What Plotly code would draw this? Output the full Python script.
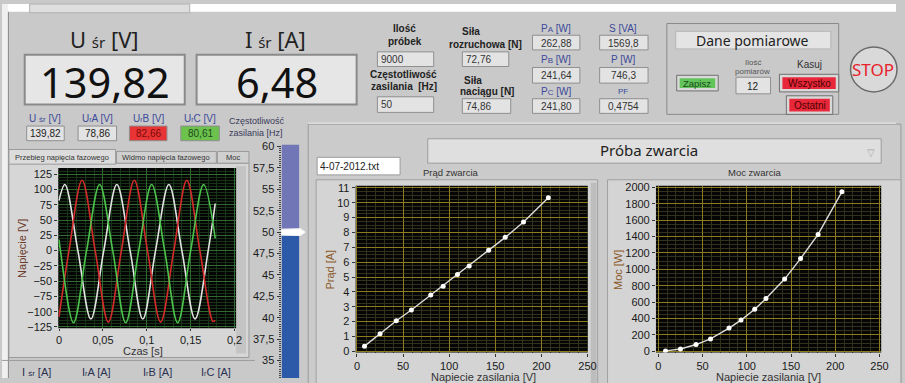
import plotly.graph_objects as go

# ------------------------------------------------------------------ data
# phase voltage waveforms (read at peaks / zero crossings)
t_white = [0, 0.0067, 0.0215, 0.0363, 0.051, 0.0659, 0.081, 0.0955, 0.110, 0.1252, 0.140, 0.155, 0.170, 0.178]
u_white = [82, 108, 0, -112, 0, 108, 0, -112, 0, 108, 0, -112, 0, 77]
t_red = [0, 0.0114, 0.0263, 0.0412, 0.0562, 0.0711, 0.0858, 0.1008, 0.1158, 0.1308, 0.1456, 0.1605, 0.1755, 0.178]
u_red = [-108, 0, 115, 0, -117, 0, 115, 0, -117, 0, 115, 0, -116, -114]
t_green = [0, 0.0016, 0.0165, 0.0314, 0.0463, 0.0612, 0.0760, 0.0908, 0.1056, 0.1204, 0.1352, 0.1500, 0.1648, 0.178]
u_green = [18, 0, -118, 0, 108, 0, -118, 0, 108, 0, -118, 0, 108, 20]

# short-circuit test
u_supply = [8.2, 25.1, 42.7, 59.0, 80.0, 93.5, 109.0, 121.7, 142.8, 160.8, 180.6, 207.5]
i_short = [0.35, 1.18, 2.06, 2.78, 3.79, 4.38, 5.17, 5.75, 6.80, 7.67, 8.70, 10.33]
p_short = [5, 28, 83, 151, 283, 381, 512, 643, 881, 1131, 1425, 1944]

# frequency slider
freq_value = 50
freq_ticks = [35, 37.5, 40, 42.5, 45, 47.5, 50, 52.5, 55, 57.5, 60]
freq_ticktext = ["35", "37,5", "40", "42,5", "45", "47,5", "50", "52,5", "55", "57,5", "60"]

# tick labels
sine_xticks = [0, 0.05, 0.1, 0.15, 0.2]
sine_xtext = ["0", "0,05", "0,1", "0,15", "0,2"]
sine_yticks = [-125, -100, -75, -50, -25, 0, 25, 50, 75, 100, 125]
v_xticks = [0, 50, 100, 150, 200, 250]
i_yticks = [0, 1, 2, 3, 4, 5, 6, 7, 8, 9, 10, 11]
p_yticks = [0, 200, 400, 600, 800, 1000, 1200, 1400, 1600, 1800, 2000]

# indicator values
u_avg, i_avg = "139,82", "6,48"
SMALL_R = "<span style='font-size:7px'>r</span>"
phase_labels = ["U <span style='font-size:8px'>śr</span> [V]", "U" + SMALL_R + "A [V]",
                "U" + SMALL_R + "B [V]", "U" + SMALL_R + "C [V]"]
phase_values = ["139,82", "78,86", "82,66", "80,61"]
n_samples, supply_freq = "9000", "50"
f_start, f_tension = "72,76", "74,86"
p_labels = ["P<span style='font-size:8px'>A</span> [W]", "P<span style='font-size:8px'>B</span> [W]",
            "P<span style='font-size:8px'>C</span> [W]"]
p_values = ["262,88", "241,64", "241,80"]
s_labels = ["S [VA]", "P [W]", "PF"]
s_values = ["1569,8", "746,3", "0,4754"]
n_meas = "12"
current_labels = ["I <span style='font-size:8px'>śr</span> [A]", "I" + SMALL_R + "A [A]",
                  "I" + SMALL_R + "B [A]", "I" + SMALL_R + "C [A]"]

# ------------------------------------------------------------------ helpers
W, H = 905, 383
BG = "#c9c9c9"
SANS = "Liberation Sans"
BIG = "Noto Sans"


def X(p):
    return p / W


def Y(p):
    return 1 - p / H


shapes, annotations = [], []


def rect(x0, y0, x1, y1, fill, line=None, lw=0, layer="below"):
    shapes.append(dict(type="rect", xref="paper", yref="paper",
                       x0=X(x0), x1=X(x1), y0=Y(y1), y1=Y(y0),
                       fillcolor=fill, line=dict(color=line or fill, width=lw), layer=layer))


def hline(x0, x1, y, color, lw=1):
    shapes.append(dict(type="line", xref="paper", yref="paper", x0=X(x0), x1=X(x1),
                       y0=Y(y), y1=Y(y), line=dict(color=color, width=lw), layer="below"))


def vline(x, y0, y1, color, lw=1):
    shapes.append(dict(type="line", xref="paper", yref="paper", x0=X(x), x1=X(x),
                       y0=Y(y0), y1=Y(y1), line=dict(color=color, width=lw), layer="below"))


def txt(x, y, s, size=10, color="#222", family=SANS, xanchor="center", angle=0, bold=False):
    annotations.append(dict(xref="paper", yref="paper", x=X(x), y=Y(y), text=s, showarrow=False,
                            font=dict(size=size, color=color, family=family,
                                      weight="bold" if bold else "normal"),
                            xanchor=xanchor, yanchor="middle", textangle=angle, borderpad=0))


def box(x0, y0, x1, y1, fill="#e3e3e3"):
    rect(x0, y0, x1, y1, fill, line="#8f8f8f", lw=1)


def button(x0, y0, x1, y1, inner):
    rect(x0, y0, x1, y1, "#d8d8d8", line="#6f6f6f", lw=1)
    rect(x0 + 3, y0 + 3, x1 - 3, y1 - 3, inner)


# ------------------------------------------------------------------ panel decoration
rect(0, 0, 905, 8, "#ffffff")
rect(0, 0, 6, 383, "#f0f0f0")
vline(6.5, 8, 383, "#8a8a8a")
rect(28, 0, 190, 9, "#dedede", line="#b0b0b0", lw=1)

# big indicators
txt(104, 36, "U <span style='font-size:15px'>śr</span> [V]", size=22, family=BIG)
rect(23, 52, 185, 103, "#e6e6e6", line="#8a8a8a", lw=2)
txt(104, 80, u_avg, size=41.5, color="#111", family=BIG)
txt(277, 36, "I <span style='font-size:15px'>śr</span> [A]", size=22, family=BIG)
rect(197, 52, 359, 103, "#e6e6e6", line="#8a8a8a", lw=2)
txt(278, 80, i_avg, size=41.5, color="#111", family=BIG)

# phase voltage indicators
ph_x = [(25, 63), (77, 116), (129, 167), (181, 220)]
ph_fill = ["#e3e3e3", "#e3e3e3", "#e83434", "#6cc24c"]
ph_col = ["#222", "#222", "#7a0a0a", "#1e4a1e"]
for (a, b), lab, val, f, c in zip(ph_x, phase_labels, phase_values, ph_fill, ph_col):
    txt((a + b) / 2, 117, lab, size=10, color="#3b4a9a")
    box(a, 125, b, 140, f)
    txt((a + b) / 2, 133, val, size=10, color=c)
txt(258, 120, "Częstotliwość", size=9, color="#3a3a5a")
txt(257, 132, "zasilania [Hz]", size=9, color="#3a3a5a")

# samples / frequency
txt(407, 25, "Ilość", size=10, bold=True)
txt(408, 38, "próbek", size=10, bold=True)
box(380, 49, 437, 64)
txt(383, 57, n_samples, size=10, color="#333", xanchor="left")
txt(406, 72, "Częstotliwość", size=10, bold=True)
txt(407, 84, "zasilania  [Hz]", size=10, bold=True)
box(380, 95, 437, 111)
txt(383, 103, supply_freq, size=10, color="#333", xanchor="left")

# forces
txt(475, 28, "Siła", size=10, bold=True)
txt(489, 41, "rozruchowa [N]", size=10, bold=True)
box(466, 49, 513, 64)
txt(469, 57, f_start, size=10, color="#333", xanchor="left")
txt(477, 78, "Siła", size=10, bold=True)
txt(491, 90, "naciągu [N]", size=10, bold=True)
box(466, 97, 515, 112)
txt(469, 105, f_tension, size=10, color="#333", xanchor="left")

# powers
p_rows = [(25, 32, 47), (57, 65, 81), (90, 97, 112)]
for (ly, y0, y1), lab, val in zip(p_rows, p_labels, p_values):
    txt(561, ly, lab, size=10, color="#3b4a9a")
    box(537, y0, 585, y1)
    txt(561, (y0 + y1) / 2 + 0.5, val, size=10, color="#333")
for (ly, y0, y1), lab, val, sz in zip(p_rows, s_labels, s_values, [10, 10, 8]):
    txt(629, ly, lab, size=sz, color="#3b4a9a")
    box(605, y0, 654, y1)
    txt(629.5, (y0 + y1) / 2 + 0.5, val, size=10, color="#333")

# measurement data frame
rect(673, 20, 847, 113, BG, line="#8a8a8a", lw=1)
rect(682, 28, 839, 46, "#e4e4e4", line="#b5b5b5", lw=1)
txt(760, 37, "Dane pomiarowe", size=14, family=BIG)
button(683, 73, 725, 89, "#62c45a")
txt(704, 81, "Zapisz", size=9.5, color="#1a4a1a")
txt(760, 60, "Ilość", size=8, color="#555")
txt(760, 69, "pomiarów", size=8, color="#555")
box(743, 75, 778, 92)
txt(760.5, 84, n_meas, size=10, color="#222")
txt(817, 62, "Kasuj", size=10, color="#333")
button(787, 72, 847, 90, "#e8283a")
txt(817, 81, "Wszystko", size=10, color="#4a0000")
button(794, 94, 841, 113, "#e8283a")
txt(817.5, 103.5, "Ostatni", size=10, color="#4a0000")
shapes.append(dict(type="circle", xref="paper", yref="paper", x0=X(859), x1=X(906), y0=Y(90), y1=Y(44),
                   fillcolor="#d9d9d9", line=dict(color="#6a6a6a", width=1.5), layer="below"))
txt(882, 67, "STOP", size=17, color="#e8202a", family=BIG)

# lower right panel
rect(310, 123, 910, 390, "#cbcbcb", line="#9a9a9a", lw=1)
hline(310, 905, 122, "#efefef")
rect(319, 157, 403, 175, "#ffffff", line="#9a9a9a", lw=1)
txt(321, 166, "4-07-2012.txt", size=10, color="#222", xanchor="left")
rect(431, 138, 890, 163, "#dfdfdf", line="#9c9c9c", lw=1)
txt(655, 150, "Próba zwarcia", size=15, color="#222", family=BIG)
txt(880, 152, "▽", size=10, color="#a8a8a8")
rect(318, 180, 603, 390, "#d4d4d4", line="#a0a0a0", lw=1)
rect(596, 183, 602, 390, "#bdbdbd")
rect(613, 180, 910, 390, "#d4d4d4", line="#a0a0a0", lw=1)
txt(455, 173, "Prąd zwarcia", size=9.5, color="#333")
txt(762, 173, "Moc zwarcia", size=9.5, color="#333")

# left tab control
rect(7, 163, 250, 362, "#d6d6d6", line="#9a9a9a", lw=1)
rect(7, 149, 115, 164, "#dcdcdc", line="#9a9a9a", lw=1)
rect(116, 151, 217, 163, "#cfcfcf", line="#9a9a9a", lw=1)
rect(218, 151, 250, 163, "#cfcfcf", line="#9a9a9a", lw=1)
txt(61, 157, "Przebieg napięcia fazowego", size=7.5, color="#333")
txt(166, 157, "Widmo napięcia fazowego", size=7.5, color="#333")
txt(234, 157, "Moc", size=7.5, color="#333")
rect(237, 166, 247, 358, "#c4c4c4")
hline(0, 256, 365, "#9a9a9a")
for xx, lab in zip([35, 96, 157, 217], current_labels):
    txt(xx, 377, lab, size=11, color="#2a3050")

# black plot backgrounds
dom_sine = (57, 237, 168, 332)
dom_i = (358, 593, 186, 357)
dom_p = (662, 890, 186, 357)
dom_f = (283, 301, 144, 383)
for d in (dom_sine, dom_i, dom_p):
    rect(d[0], d[2], d[1], d[3], "#050505")

# axis titles
txt(20, 250, "Napięcie [V]", size=11, color="#6b3b2b", angle=-90)
txt(143, 355, "Czas [s]", size=11, color="#333")
txt(332, 272, "Prąd [A]", size=11, color="#8b5a2b", angle=-90)
txt(487, 382, "Napiecie zasilania [V]", size=11, color="#333")
txt(623, 272, "Moc [W]", size=11, color="#8b5a2b", angle=-90)
txt(776, 382, "Napiecie zasilania [V]", size=11, color="#333")

# ------------------------------------------------------------------ traces
fig = go.Figure()
fig.add_trace(go.Scatter(x=t_white, y=u_white, mode="lines", line=dict(color="#e2e2e2", width=1.6, shape="spline"),
                         xaxis="x", yaxis="y"))
fig.add_trace(go.Scatter(x=t_red, y=u_red, mode="lines", line=dict(color="#d42a2a", width=1.6, shape="spline"),
                         xaxis="x", yaxis="y"))
fig.add_trace(go.Scatter(x=t_green, y=u_green, mode="lines", line=dict(color="#4cc24c", width=1.6, shape="spline"),
                         xaxis="x", yaxis="y"))
fig.add_trace(go.Scatter(x=u_supply, y=i_short, mode="lines+markers",
                         line=dict(color="#dcdcdc", width=1.4), marker=dict(color="#ffffff", size=5),
                         xaxis="x2", yaxis="y2"))
fig.add_trace(go.Scatter(x=u_supply, y=p_short, mode="lines+markers",
                         line=dict(color="#dcdcdc", width=1.4), marker=dict(color="#ffffff", size=5),
                         xaxis="x3", yaxis="y3"))
f_lo, f_hi = 32.95, 60.23
fig.add_trace(go.Bar(x=[0.5], y=[freq_value - f_lo], base=[f_lo], width=[1], marker=dict(color="#2c5aa8", line_width=0),
                     xaxis="x4", yaxis="y4"))
fig.add_trace(go.Bar(x=[0.5], y=[f_hi - freq_value], base=[freq_value], width=[1],
                     marker=dict(color="#7177b6", line_width=0), xaxis="x4", yaxis="y4"))

# slider thumb
shapes.append(dict(type="path", xref="paper", yref="y4",
                   path="M %f,%f L %f,%f L %f,%f L %f,%f L %f,%f Z" % (
                       X(283), freq_value - 0.35, X(302), freq_value - 0.4, X(307), freq_value,
                       X(302), freq_value + 0.4, X(283), freq_value + 0.35),
                   fillcolor="#ffffff", line=dict(color="#f4f4f4", width=1), layer="above"))

tickfont = dict(size=11, color="#1a1a1a", family=SANS)


def ax(dom, horizontal, **kw):
    a, b = (dom[0], dom[1]) if horizontal else (dom[2], dom[3])
    d = [X(a), X(b)] if horizontal else [Y(b), Y(a)]
    base = dict(domain=d, showline=False, zeroline=False, ticks="outside", ticklen=3, tickcolor="#333",
                tickfont=tickfont, fixedrange=True)
    base.update(kw)
    return base


layout = dict(
    width=W, height=H, margin=dict(l=0, r=0, t=0, b=0), autosize=False,
    paper_bgcolor=BG, plot_bgcolor="rgba(0,0,0,0)", showlegend=False, barmode="overlay",
    shapes=shapes, annotations=annotations,
    xaxis=ax(dom_sine, True, anchor="y", range=[-0.0008, 0.2018], tickvals=sine_xticks, ticktext=sine_xtext,
             showgrid=True, gridcolor="#2f6a2f", gridwidth=1, ticklen=2,
             minor=dict(dtick=0.01, showgrid=True, gridcolor="#183418", ticks="")),
    yaxis=ax(dom_sine, False, anchor="x", range=[-127, 135], tickvals=sine_yticks,
             showgrid=True, gridcolor="#2f6a2f", gridwidth=1,
             minor=dict(dtick=5, showgrid=True, gridcolor="#183418", ticks="")),
    xaxis2=ax(dom_i, True, anchor="y2", range=[-1.4, 250.3], tickvals=v_xticks,
              showgrid=True, gridcolor="#8c7c1e", gridwidth=1,
              minor=dict(dtick=10, showgrid=True, gridcolor="#32321c", ticks="")),
    yaxis2=ax(dom_i, False, anchor="x2", range=[-0.085, 11.15], tickvals=i_yticks,
              showgrid=True, gridcolor="#8c7c1e", gridwidth=1,
              minor=dict(dtick=0.25, showgrid=True, gridcolor="#32321c", ticks="")),
    xaxis3=ax(dom_p, True, anchor="y3", range=[-2.6, 251.9], tickvals=v_xticks,
              showgrid=True, gridcolor="#8c7c1e", gridwidth=1,
              minor=dict(dtick=10, showgrid=True, gridcolor="#32321c", ticks="")),
    yaxis3=ax(dom_p, False, anchor="x3", range=[-15.5, 2020], tickvals=p_yticks,
              showgrid=True, gridcolor="#8c7c1e", gridwidth=1,
              minor=dict(dtick=50, showgrid=True, gridcolor="#32321c", ticks="")),
    xaxis4=ax(dom_f, True, anchor="y4", range=[0, 1], visible=False, showgrid=False),
    yaxis4=ax(dom_f, False, anchor="x4", range=[f_lo, f_hi], tickvals=freq_ticks, ticktext=freq_ticktext,
              showgrid=False, ticklen=4,
              minor=dict(dtick=0.25, ticks="outside", ticklen=2, tickcolor="#444", showgrid=False)),
)
fig.update_layout(**layout)
fig.write_html("out.html")
